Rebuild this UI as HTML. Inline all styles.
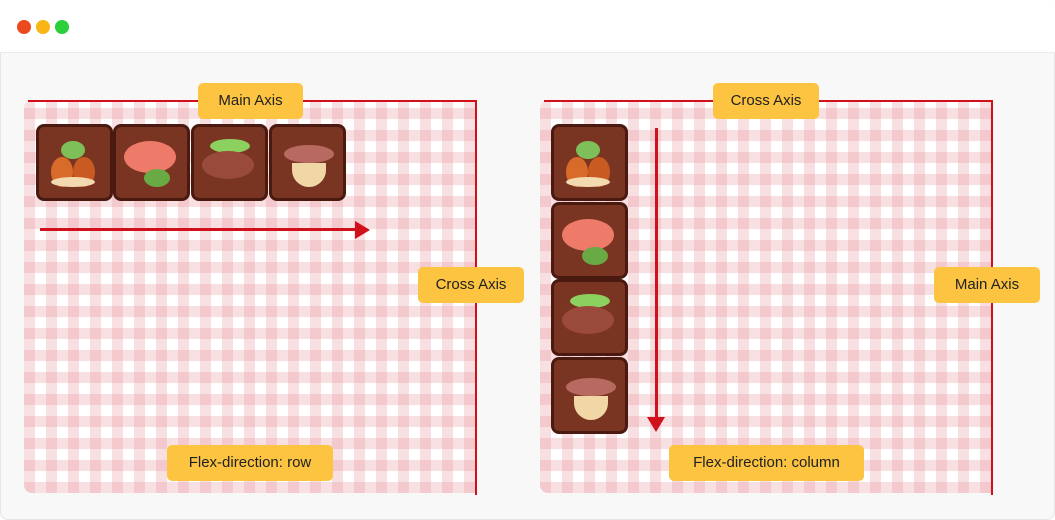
<!DOCTYPE html>
<html><head><meta charset="utf-8"><style>
*{margin:0;padding:0;box-sizing:border-box}
body{width:1055px;height:520px;background:#fff;font-family:"Liberation Sans",sans-serif;position:relative;overflow:hidden}
.win{position:absolute;left:0;top:0;width:1055px;height:520px;outline:1px solid #e6e6e6;outline-offset:-1px;border-radius:8px;background:#f8f8f8;overflow:hidden}
.bar{position:absolute;left:0;top:0;width:100%;height:53px;background:#fff;border-bottom:1px solid #ebebeb}
.dot{position:absolute;top:20px;width:14px;height:14px;border-radius:50%}
.panel{position:absolute;top:100px;width:452px;height:393px;border-radius:8px 0 0 8px;
background-color:#fff;
background-image:repeating-linear-gradient(90deg,rgba(232,150,160,.3) 0 11px,transparent 11px 22px),
repeating-linear-gradient(0deg,rgba(232,150,160,.3) 0 11px,transparent 11px 22px);}
.rl{position:absolute;background:#d0101a}
.lab{position:absolute;height:36px;background:#fcc440;border-radius:5px;font-size:15px;color:#222;text-align:center;line-height:36px}
.tile{position:absolute;width:77px;height:77px;background:#7a3522;border:3px solid #4a1a10;border-radius:8px;overflow:hidden}
.tile i{position:absolute;display:block;border-radius:50%}
</style></head><body>
<div class="win">
<div class="bar"><div class="dot" style="left:17px;background:#ea4a1e"></div><div class="dot" style="left:36px;background:#f8b514"></div><div class="dot" style="left:55px;background:#2bcf3c"></div></div>

<div class="panel" style="left:24px"></div>
<div class="panel" style="left:540px"></div>

<div class="rl" style="left:28px;top:100px;width:449px;height:2px"></div>
<div class="rl" style="left:475px;top:100px;width:2px;height:395px"></div>
<div class="rl" style="left:544px;top:100px;width:449px;height:2px"></div>
<div class="rl" style="left:991px;top:100px;width:2px;height:395px"></div>

<div class="rl" style="left:40px;top:228px;width:316px;height:3px"></div>
<div style="position:absolute;left:355px;top:221px;width:0;height:0;border-top:9px solid transparent;border-bottom:9px solid transparent;border-left:15px solid #d0101a"></div>
<div class="rl" style="left:655px;top:128px;width:3px;height:290px"></div>
<div style="position:absolute;left:647px;top:417px;width:0;height:0;border-left:9px solid transparent;border-right:9px solid transparent;border-top:15px solid #d0101a"></div>

<div class="tile" style="left:36px;top:124px"><i style="left:22px;top:14px;width:24px;height:18px;background:#7fbf5a"></i><i style="left:12px;top:30px;width:22px;height:30px;background:#d86a2a"></i><i style="left:34px;top:30px;width:22px;height:30px;background:#c85a22"></i><i style="left:12px;top:50px;width:44px;height:10px;background:#f3d9b0"></i></div>
<div class="tile" style="left:113px;top:124px"><i style="left:8px;top:14px;width:52px;height:32px;background:#ee7a6a"></i><i style="left:28px;top:42px;width:26px;height:18px;background:#6aaa44"></i></div>
<div class="tile" style="left:191px;top:124px"><i style="left:16px;top:12px;width:40px;height:14px;background:#8cd060"></i><i style="left:8px;top:24px;width:52px;height:28px;background:#9a4a3a"></i></div>
<div class="tile" style="left:269px;top:124px"><i style="left:12px;top:18px;width:50px;height:18px;background:#b86a60"></i><i style="left:20px;top:36px;width:34px;height:24px;background:#f1d7a6;border-radius:0 0 17px 17px"></i></div>

<div class="tile" style="left:551px;top:124px"><i style="left:22px;top:14px;width:24px;height:18px;background:#7fbf5a"></i><i style="left:12px;top:30px;width:22px;height:30px;background:#d86a2a"></i><i style="left:34px;top:30px;width:22px;height:30px;background:#c85a22"></i><i style="left:12px;top:50px;width:44px;height:10px;background:#f3d9b0"></i></div>
<div class="tile" style="left:551px;top:202px"><i style="left:8px;top:14px;width:52px;height:32px;background:#ee7a6a"></i><i style="left:28px;top:42px;width:26px;height:18px;background:#6aaa44"></i></div>
<div class="tile" style="left:551px;top:279px"><i style="left:16px;top:12px;width:40px;height:14px;background:#8cd060"></i><i style="left:8px;top:24px;width:52px;height:28px;background:#9a4a3a"></i></div>
<div class="tile" style="left:551px;top:357px"><i style="left:12px;top:18px;width:50px;height:18px;background:#b86a60"></i><i style="left:20px;top:36px;width:34px;height:24px;background:#f1d7a6;border-radius:0 0 17px 17px"></i></div>

<div class="lab" style="left:198px;top:83px;width:105px">Main Axis</div>
<div class="lab" style="left:418px;top:267px;width:106px">Cross Axis</div>
<div class="lab" style="left:167px;top:445px;width:166px">Flex-direction: row</div>
<div class="lab" style="left:713px;top:83px;width:106px">Cross Axis</div>
<div class="lab" style="left:934px;top:267px;width:106px">Main Axis</div>
<div class="lab" style="left:669px;top:445px;width:195px">Flex-direction: column</div>
</div>
</body></html>
